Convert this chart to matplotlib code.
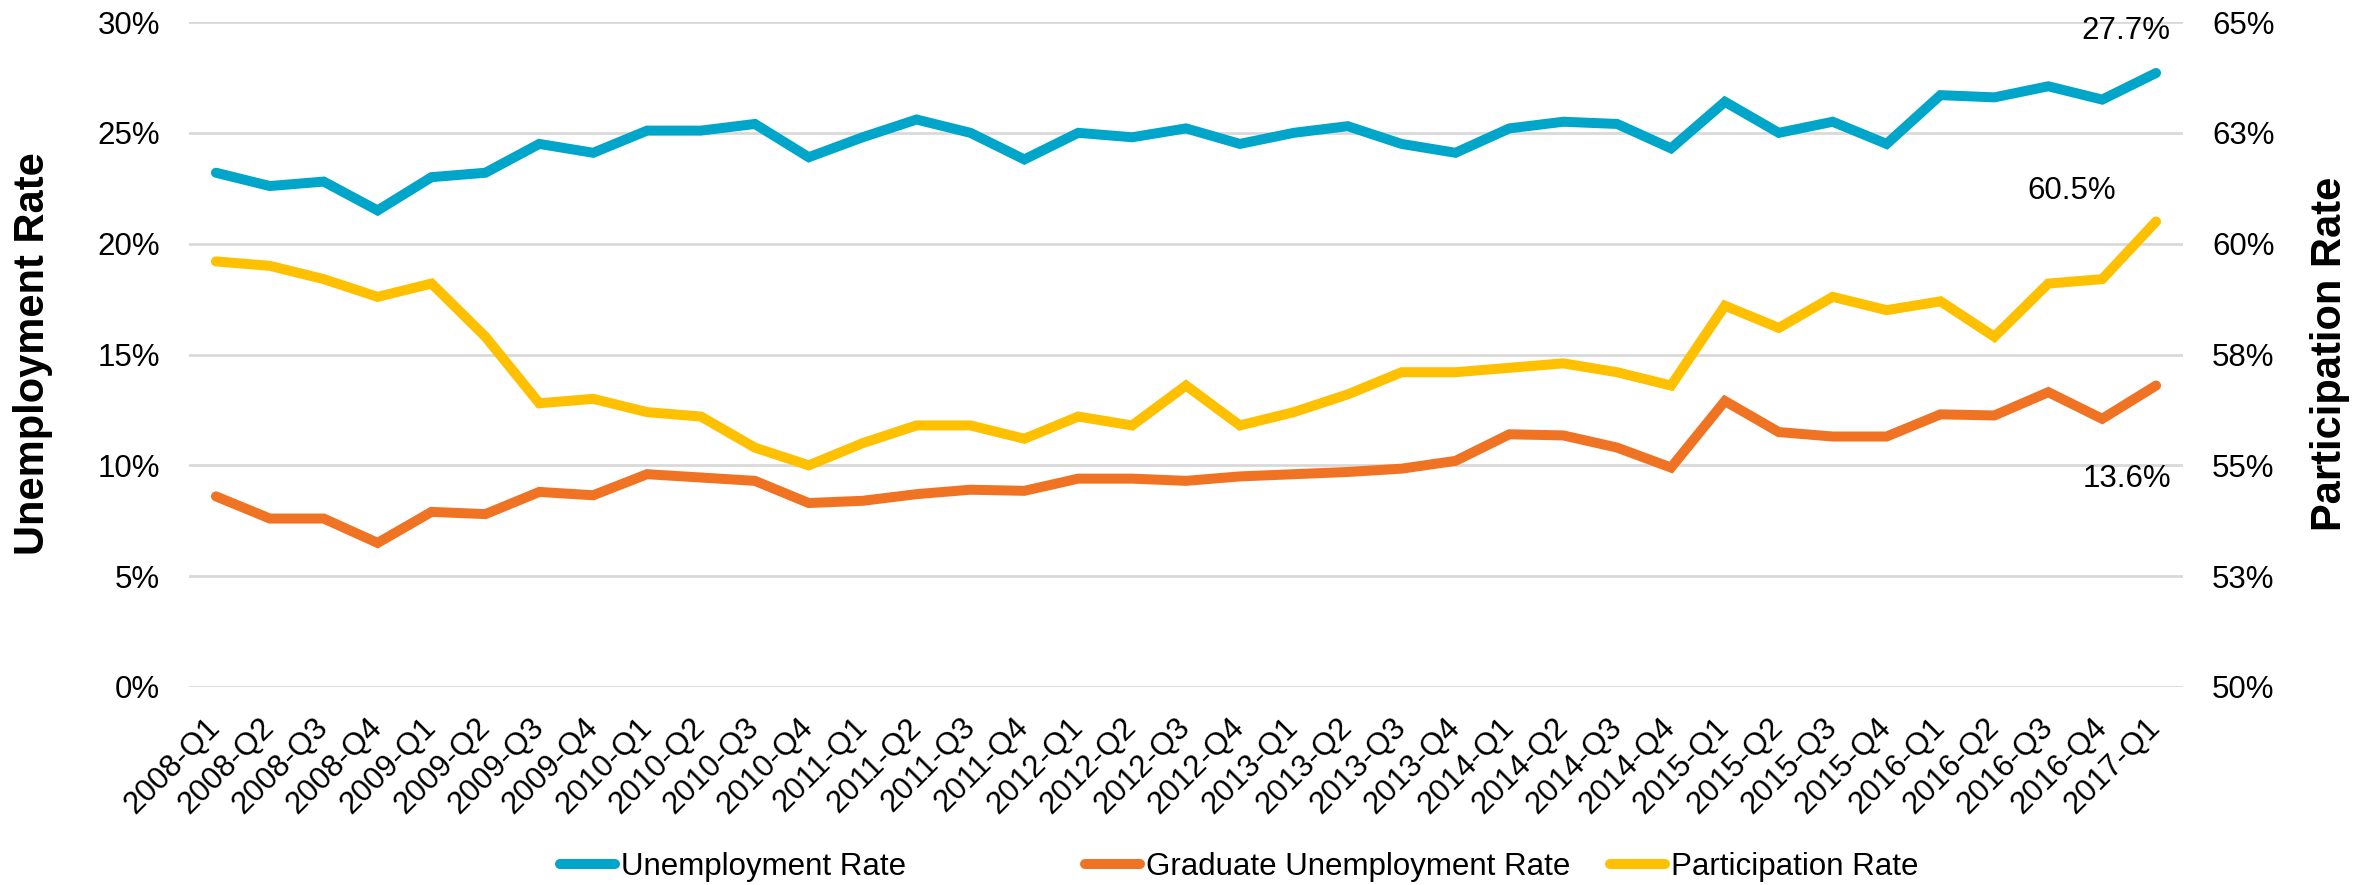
import math

import matplotlib
matplotlib.use("Agg")
import matplotlib.pyplot as plt
from matplotlib.ticker import FixedLocator, FuncFormatter

plt.rcParams["font.family"] = ["Liberation Sans", "DejaVu Sans"]

QUARTERS = [
    "2008-Q1", "2008-Q2", "2008-Q3", "2008-Q4",
    "2009-Q1", "2009-Q2", "2009-Q3", "2009-Q4",
    "2010-Q1", "2010-Q2", "2010-Q3", "2010-Q4",
    "2011-Q1", "2011-Q2", "2011-Q3", "2011-Q4",
    "2012-Q1", "2012-Q2", "2012-Q3", "2012-Q4",
    "2013-Q1", "2013-Q2", "2013-Q3", "2013-Q4",
    "2014-Q1", "2014-Q2", "2014-Q3", "2014-Q4",
    "2015-Q1", "2015-Q2", "2015-Q3", "2015-Q4",
    "2016-Q1", "2016-Q2", "2016-Q3", "2016-Q4",
    "2017-Q1",
]

UNEMPLOYMENT = [
    23.2, 22.6, 22.8, 21.5, 23.0, 23.2, 24.5, 24.1,
    25.1, 25.1, 25.4, 23.9, 24.8, 25.6, 25.0, 23.8,
    25.0, 24.8, 25.2, 24.5, 25.0, 25.3, 24.5, 24.1,
    25.2, 25.5, 25.4, 24.3, 26.4, 25.0, 25.5, 24.5,
    26.7, 26.6, 27.1, 26.5, 27.7,
]

GRADUATE_UNEMPLOYMENT = [
    8.6, 7.6, 7.6, 6.5, 7.9, 7.8, 8.8, 8.65,
    9.6, 9.45, 9.3, 8.3, 8.4, 8.7, 8.9, 8.85,
    9.4, 9.4, 9.3, 9.5, 9.6, 9.7, 9.85, 10.2,
    11.4, 11.35, 10.8, 9.9, 12.9, 11.5, 11.3, 11.3,
    12.3, 12.25, 13.3, 12.1, 13.6,
]

PARTICIPATION = [
    59.6, 59.5, 59.2, 58.8, 59.1, 57.9, 56.4, 56.5,
    56.2, 56.1, 55.4, 55.0, 55.5, 55.9, 55.9, 55.6,
    56.1, 55.9, 56.8, 55.9, 56.2, 56.6, 57.1, 57.1,
    57.2, 57.3, 57.1, 56.8, 58.6, 58.1, 58.8, 58.5,
    58.7, 57.9, 59.1, 59.2, 60.5,
]

BLUE = "#00A6C9"
ORANGE = "#F07223"
YELLOW = "#FFC000"
GRID = "#D9D9D9"

W, H, DPI = 2379, 885, 100
FS = 22.5
LW = 7.2


def excel_pct(v, _pos=None):
    # Excel rounds halves up (52.5 -> 53)
    return f"{int(math.floor(v + 0.5))}%"


fig = plt.figure(figsize=(W / DPI, H / DPI), dpi=DPI)
ax = fig.add_axes([189 / W, 1 - 687 / H, (2183 - 189) / W, (687 - 22) / H])
ax2 = ax.twinx()

x = list(range(len(QUARTERS)))

line_kw = dict(linewidth=LW, solid_capstyle="round", solid_joinstyle="miter")
h1, = ax.plot(x, UNEMPLOYMENT, color=BLUE, label="Unemployment Rate", **line_kw)
h2, = ax.plot(x, GRADUATE_UNEMPLOYMENT, color=ORANGE,
              label="Graduate Unemployment Rate", **line_kw)
h3, = ax2.plot(x, PARTICIPATION, color=YELLOW, label="Participation Rate", **line_kw)

ax.set_xlim(-0.5, len(QUARTERS) - 0.5)
ax.set_ylim(0, 30)
ax.yaxis.set_major_locator(FixedLocator([0, 5, 10, 15, 20, 25, 30]))
ax.yaxis.set_major_formatter(FuncFormatter(excel_pct))
ax2.set_ylim(50, 65)
ax2.yaxis.set_major_locator(FixedLocator([50, 52.5, 55, 57.5, 60, 62.5, 65]))
ax2.yaxis.set_major_formatter(FuncFormatter(excel_pct))

ax.grid(axis="y", color=GRID, linewidth=2.0)
ax.set_axisbelow(True)
for a in (ax, ax2):
    for s in a.spines.values():
        s.set_visible(False)

ax.set_xticks(x)
ax.set_xticklabels(QUARTERS, rotation=45, ha="right", va="center",
                   rotation_mode="anchor", fontsize=FS)
ax.tick_params(axis="x", length=0, pad=26)
ax.tick_params(axis="y", length=0, pad=21, labelsize=FS)
ax2.tick_params(axis="y", length=0, pad=21, labelsize=FS)

# end-of-series value labels
last = len(QUARTERS) - 1
ax.annotate(f"{UNEMPLOYMENT[-1]:.1f}%", (last, UNEMPLOYMENT[-1]),
            xytext=(-22, 30), textcoords="offset points",
            ha="center", va="center", fontsize=FS)
ax2.annotate(f"{PARTICIPATION[-1]:.1f}%", (last, PARTICIPATION[-1]),
             xytext=(-61, 22), textcoords="offset points",
             ha="center", va="center", fontsize=FS)
ax.annotate(f"{GRADUATE_UNEMPLOYMENT[-1]:.1f}%", (last, GRADUATE_UNEMPLOYMENT[-1]),
            xytext=(-21, -67), textcoords="offset points",
            ha="center", va="center", fontsize=FS)

fig.text(33 / W, 1 - 354 / H, "Unemployment Rate", rotation=90,
         ha="center", va="center", fontsize=30, fontweight="bold")
fig.text(2330 / W, 1 - 354 / H, "Participation Rate", rotation=90,
         ha="center", va="center", fontsize=30, fontweight="bold")

# legend entries laid out in equal-width columns
for i, h in enumerate([h1, h2, h3]):
    fig.legend(handles=[h], loc="center left",
               bbox_to_anchor=((560 + 525 * i) / W, 1 - 867 / H),
               frameon=False, fontsize=FS, handlelength=1.75,
               handletextpad=0.2, borderpad=0, borderaxespad=0)

fig.savefig("out.png", dpi=DPI)
